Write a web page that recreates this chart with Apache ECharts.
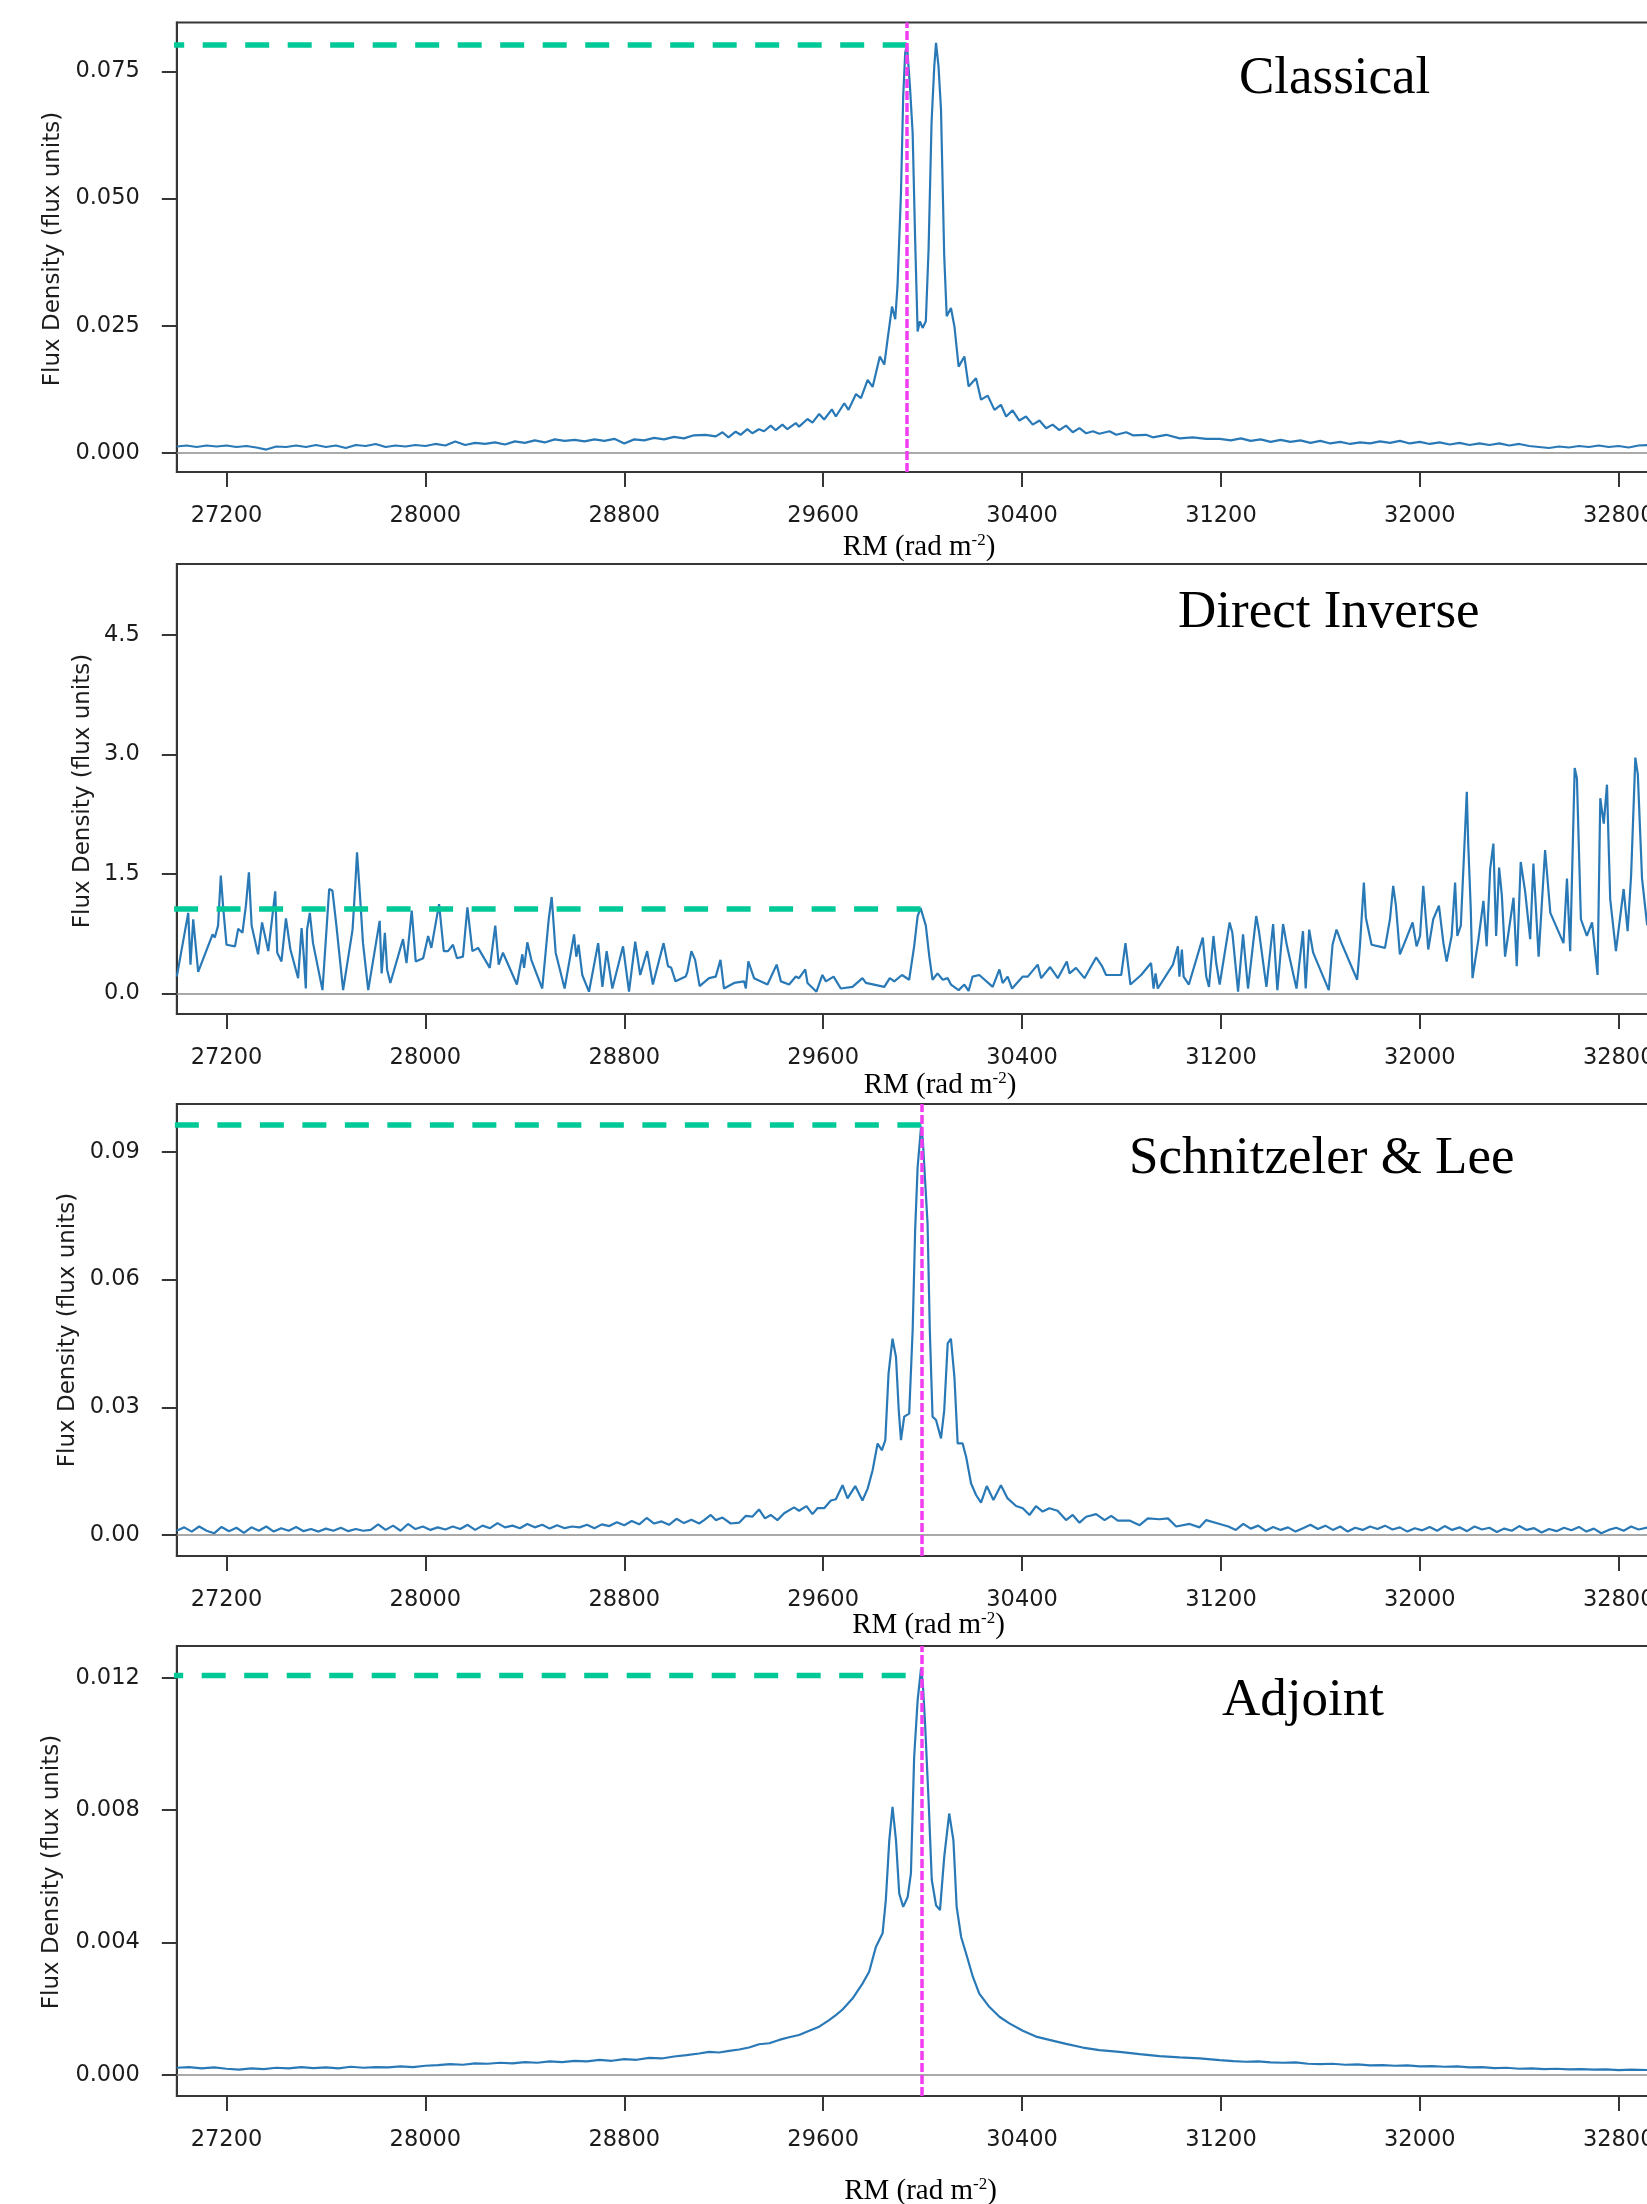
<!DOCTYPE html>
<html>
<head>
<meta charset="utf-8">
<title>Faraday depth spectra</title>
<script src="https://cdn.jsdelivr.net/npm/echarts@6/dist/echarts.min.js"></script>
<style>
  html, body { margin: 0; padding: 0; background: #ffffff; }
  #chart { width: 1647px; height: 2204px; }
</style>
</head>
<body>
<div id="chart"></div>
<script>
// ---------------- data ----------------
// RM axis (rad m^-2)
const rmTicks = [27200, 28000, 28800, 29600, 30400, 31200, 32000, 32800];
const rmExtent = [27000, 33000];

// Classical reconstruction: [RM, flux]
const classical = [
  [27000,0.0013],[27040,0.0015],[27080,0.0012],[27120,0.0015],[27160,0.0013],[27200,0.0015],[27240,0.0012],
  [27280,0.0014],[27320,0.0011],[27360,0.0007],[27400,0.0013],[27440,0.0012],[27480,0.0015],[27520,0.0012],
  [27560,0.0016],[27600,0.0012],[27640,0.0015],[27680,0.0010],[27720,0.0016],[27760,0.0014],[27800,0.0018],
  [27840,0.0012],[27880,0.0015],[27920,0.0013],[27960,0.0016],[28000,0.0014],[28040,0.0018],[28080,0.0015],
  [28120,0.0023],[28160,0.0016],[28200,0.0020],[28240,0.0018],[28280,0.0021],[28320,0.0017],[28360,0.0023],
  [28400,0.0020],[28440,0.0025],[28480,0.0021],[28520,0.0027],[28560,0.0024],[28600,0.0026],[28640,0.0023],
  [28680,0.0027],[28720,0.0024],[28760,0.0028],[28800,0.0019],[28840,0.0027],[28880,0.0025],[28920,0.0030],
  [28960,0.0027],[29000,0.0032],[29040,0.0029],[29080,0.0035],
  [29127,0.0036],[29168,0.0033],[29195,0.0041],[29219,0.0031],[29248,0.0042],[29268,0.0036],[29295,0.0047],
  [29315,0.0039],[29342,0.0047],[29362,0.0043],[29389,0.0054],[29409,0.0045],[29436,0.0056],[29456,0.0047],
  [29490,0.0059],[29503,0.0052],[29537,0.0067],[29557,0.0060],[29584,0.0077],[29604,0.0066],[29635,0.0086],
  [29651,0.0072],[29685,0.0098],[29702,0.0085],[29732,0.0116],[29752,0.0108],[29779,0.0144],[29799,0.0130],
  [29828,0.0190],[29846,0.0174],[29859,0.0223],[29877,0.0288],[29890,0.0263],[29899,0.0328],[29913,0.0511],
  [29922,0.0701],[29930,0.0786],[29937,0.0803],[29949,0.0721],[29960,0.0629],[29970,0.0419],[29980,0.0239],
  [29989,0.0259],[30000,0.0246],[30013,0.0259],[30024,0.0400],[30036,0.0649],[30047,0.0760],[30054,0.0806],
  [30064,0.0760],[30074,0.0675],[30087,0.0387],[30097,0.0269],[30114,0.0285],[30128,0.0249],[30145,0.0170],
  [30168,0.0190],[30185,0.0131],[30215,0.0147],[30235,0.0105],[30262,0.0113],[30289,0.0085],[30315,0.0095],
  [30336,0.0072],[30362,0.0084],[30389,0.0064],[30416,0.0072],[30443,0.0056],[30470,0.0064],[30497,0.0049],
  [30523,0.0056],[30550,0.0045],[30577,0.0054],[30604,0.0041],[30631,0.0049],[30658,0.0039],[30685,0.0043],
  [30711,0.0038],[30752,0.0043],[30779,0.0036],[30819,0.0041],[30846,0.0035],[30899,0.0036],[30926,0.0031],
  [30980,0.0036],[31034,0.0029],[31087,0.0031],[31141,0.0028],[31195,0.0028],
  [31240,0.0025],[31280,0.0029],[31320,0.0024],[31360,0.0027],[31400,0.0022],[31440,0.0026],[31480,0.0022],
  [31520,0.0025],[31560,0.0020],[31600,0.0024],[31640,0.0019],[31680,0.0022],[31720,0.0018],[31760,0.0021],
  [31800,0.0019],[31840,0.0023],[31880,0.0020],[31920,0.0024],[31960,0.0019],[32000,0.0022],[32040,0.0018],
  [32080,0.0021],[32120,0.0017],[32160,0.0020],[32200,0.0016],[32240,0.0019],[32280,0.0016],[32320,0.0019],
  [32360,0.0015],[32400,0.0018],[32440,0.0014],[32480,0.0012],[32520,0.0010],[32560,0.0013],[32600,0.0011],
  [32640,0.0014],[32680,0.0012],[32720,0.0015],[32760,0.0012],[32800,0.0014],[32840,0.0011],[32880,0.0015],
  [32920,0.0016]
];

// Direct inverse reconstruction: [RM, flux]
const directInverse = [
  [27000,0.21],[27046,1.01],[27055,0.36],[27066,0.93],[27086,0.27],[27144,0.74],[27153,0.70],[27166,0.85],
  [27177,1.48],[27187,1.06],[27200,0.61],[27234,0.59],[27247,0.81],[27264,0.76],[27278,1.10],[27290,1.52],
  [27301,0.85],[27327,0.49],[27343,0.89],[27368,0.53],[27396,1.28],[27404,0.51],[27421,0.40],[27439,0.94],
  [27457,0.55],[27488,0.19],[27502,0.82],[27511,0.46],[27519,0.06],[27524,0.80],[27535,1.01],[27548,0.63],
  [27586,0.04],[27613,1.31],[27626,1.29],[27642,0.85],[27669,0.04],[27707,0.80],[27719,1.42],[27725,1.77],
  [27736,1.27],[27749,0.63],[27770,0.04],[27816,0.91],[27824,0.25],[27837,0.76],[27846,0.30],[27859,0.13],
  [27910,0.68],[27924,0.38],[27945,1.04],[27961,0.40],[27991,0.44],[28011,0.72],[28024,0.57],[28055,1.12],
  [28074,0.53],[28091,0.53],[28111,0.61],[28127,0.44],[28151,0.46],[28169,1.08],[28189,0.53],[28212,0.57],
  [28259,0.32],[28281,0.85],[28295,0.36],[28312,0.51],[28368,0.11],[28390,0.49],[28397,0.32],[28410,0.64],
  [28426,0.42],[28470,0.06],[28496,0.93],[28508,1.21],[28524,0.51],[28560,0.06],[28598,0.74],[28607,0.46],
  [28616,0.61],[28631,0.23],[28658,0.02],[28695,0.63],[28712,0.08],[28729,0.53],[28752,0.06],[28795,0.59],
  [28819,0.02],[28844,0.65],[28864,0.23],[28892,0.53],[28915,0.11],[28958,0.63],[28976,0.34],[28989,0.32],
  [29006,0.15],[29047,0.21],[29054,0.27],[29070,0.53],[29085,0.42],[29103,0.09],[29141,0.19],[29168,0.21],
  [29187,0.42],[29201,0.06],[29242,0.13],[29282,0.15],[29289,0.06],[29299,0.40],[29322,0.19],[29376,0.11],
  [29413,0.36],[29430,0.15],[29463,0.11],[29490,0.21],[29503,0.19],[29528,0.30],[29537,0.13],[29573,0.02],
  [29597,0.23],[29611,0.15],[29642,0.21],[29671,0.06],[29718,0.08],[29758,0.19],[29772,0.13],[29846,0.08],
  [29868,0.19],[29886,0.15],[29917,0.23],[29946,0.17],[29966,0.59],[29980,0.97],[29992,1.07],[30013,0.85],
  [30027,0.46],[30040,0.17],[30060,0.25],[30081,0.17],[30101,0.19],[30114,0.11],[30145,0.04],[30168,0.11],
  [30185,0.03],[30201,0.21],[30228,0.23],[30282,0.08],[30309,0.30],[30322,0.13],[30342,0.21],[30360,0.06],
  [30403,0.21],[30423,0.21],[30463,0.36],[30477,0.19],[30513,0.33],[30544,0.19],[30580,0.40],[30591,0.25],
  [30617,0.32],[30651,0.19],[30698,0.45],[30722,0.34],[30738,0.23],[30799,0.23],[30816,0.63],[30836,0.11],
  [30879,0.23],[30919,0.38],[30929,0.06],[30937,0.25],[30946,0.06],[31007,0.36],[31027,0.59],[31033,0.21],
  [31043,0.55],[31050,0.21],[31071,0.11],[31127,0.70],[31141,0.21],[31152,0.08],[31170,0.72],[31181,0.38],
  [31195,0.11],[31235,0.89],[31246,0.76],[31269,0.02],[31289,0.74],[31309,0.06],[31342,0.97],[31353,0.78],
  [31383,0.08],[31410,0.87],[31427,0.04],[31450,0.87],[31466,0.59],[31504,0.06],[31530,0.78],[31541,0.06],
  [31555,0.80],[31571,0.51],[31634,0.04],[31649,0.61],[31665,0.80],[31685,0.63],[31748,0.17],[31759,0.59],
  [31775,1.39],[31783,0.95],[31806,0.61],[31860,0.57],[31880,0.93],[31893,1.35],[31904,1.10],[31920,0.49],
  [31947,0.70],[31971,0.89],[31987,0.59],[32001,0.72],[32014,1.35],[32028,0.80],[32034,0.55],[32054,0.93],
  [32077,1.10],[32095,0.63],[32108,0.40],[32128,0.72],[32142,1.39],[32151,0.72],[32165,0.85],[32182,2.03],
  [32189,2.53],[32195,1.86],[32205,1.06],[32212,0.19],[32236,0.68],[32256,1.16],[32269,0.59],[32283,1.56],
  [32296,1.88],[32307,0.72],[32319,1.58],[32330,1.23],[32343,0.46],[32377,1.20],[32390,0.34],[32406,1.65],
  [32424,1.27],[32444,0.68],[32457,1.63],[32478,0.46],[32504,1.80],[32525,1.01],[32578,0.63],[32592,1.44],
  [32605,0.53],[32623,2.83],[32632,2.70],[32648,0.93],[32672,0.72],[32693,0.89],[32715,0.23],[32726,2.45],
  [32740,2.13],[32753,2.62],[32760,1.82],[32766,1.18],[32789,0.53],[32820,1.31],[32836,0.78],[32850,1.48],
  [32867,2.96],[32877,2.75],[32894,1.44],[32914,0.87],[32930,0.80]
];

// Schnitzeler & Lee reconstruction: [RM, flux]
const schnitzelerLee = [
  [27000,0.0010],[27030,0.0018],[27060,0.0008],[27090,0.0020],[27120,0.0010],[27150,0.0004],[27180,0.0019],
  [27210,0.0009],[27240,0.0017],[27270,0.0005],[27300,0.0018],[27330,0.0010],[27360,0.0020],[27390,0.0008],
  [27420,0.0016],[27450,0.0010],[27480,0.0019],[27510,0.0009],[27540,0.0014],[27570,0.0008],[27600,0.0015],
  [27630,0.0010],[27660,0.0017],[27690,0.0009],[27720,0.0014],[27750,0.0010],[27780,0.0012],[27810,0.0025],
  [27840,0.0012],[27870,0.0022],[27900,0.0010],[27930,0.0026],[27960,0.0014],[27990,0.0020],[28020,0.0012],
  [28050,0.0018],[28080,0.0013],[28110,0.0020],[28140,0.0014],[28170,0.0024],[28200,0.0012],[28230,0.0022],
  [28260,0.0016],[28290,0.0028],[28320,0.0018],[28350,0.0022],[28380,0.0016],[28410,0.0026],[28440,0.0018],
  [28470,0.0024],[28500,0.0015],[28530,0.0023],[28560,0.0016],[28590,0.0020],[28620,0.0018],[28650,0.0024],
  [28680,0.0016],[28710,0.0025],[28740,0.0021],[28770,0.0030],[28800,0.0023],[28830,0.0033],[28860,0.0025],
  [28890,0.0040],[28920,0.0027],[28950,0.0032],[28980,0.0024],[29010,0.0038],[29040,0.0028],[29070,0.0036],
  [29101,0.0027],[29121,0.0035],[29148,0.0047],[29168,0.0035],[29195,0.0041],[29228,0.0027],[29262,0.0029],
  [29289,0.0045],[29315,0.0043],[29342,0.0060],[29366,0.0039],[29389,0.0047],[29416,0.0035],[29443,0.0051],
  [29483,0.0065],[29503,0.0057],[29533,0.0068],[29557,0.0049],[29577,0.0063],[29604,0.0063],[29631,0.0081],
  [29651,0.0084],[29678,0.0117],[29698,0.0086],[29729,0.0115],[29758,0.0081],[29779,0.0109],[29799,0.0152],
  [29819,0.0215],[29836,0.0199],[29850,0.0223],[29863,0.0379],[29879,0.0461],[29893,0.0418],[29904,0.0293],
  [29913,0.0223],[29926,0.0278],[29946,0.0285],[29960,0.0481],[29970,0.0715],[29980,0.0864],[29994,0.0960],
  [30001,0.0927],[30010,0.0833],[30020,0.0731],[30029,0.0481],[30040,0.0278],[30054,0.0270],[30074,0.0227],
  [30087,0.0293],[30101,0.0450],[30114,0.0461],[30128,0.0371],[30141,0.0215],[30161,0.0215],[30175,0.0184],
  [30195,0.0121],[30215,0.0094],[30235,0.0076],[30258,0.0115],[30285,0.0082],[30315,0.0117],[30342,0.0086],
  [30376,0.0068],[30403,0.0063],[30430,0.0047],[30456,0.0068],[30483,0.0055],[30510,0.0063],[30543,0.0057],
  [30577,0.0035],[30604,0.0047],[30631,0.0029],[30658,0.0043],[30698,0.0049],[30732,0.0035],[30759,0.0045],
  [30785,0.0034],[30832,0.0034],[30873,0.0023],[30906,0.0039],[30953,0.0037],[30987,0.0039],[31020,0.0020],
  [31074,0.0026],[31114,0.0018],[31141,0.0035],[31195,0.0026],
  [31230,0.0020],[31260,0.0012],[31290,0.0026],[31320,0.0015],[31350,0.0022],[31380,0.0010],[31410,0.0019],
  [31440,0.0012],[31470,0.0018],[31500,0.0008],[31530,0.0016],[31560,0.0024],[31590,0.0014],[31620,0.0022],
  [31650,0.0012],[31680,0.0020],[31710,0.0008],[31740,0.0017],[31770,0.0012],[31800,0.0020],[31830,0.0014],
  [31860,0.0022],[31890,0.0013],[31920,0.0018],[31950,0.0008],[31980,0.0016],[32010,0.0011],[32040,0.0019],
  [32070,0.0010],[32100,0.0021],[32130,0.0012],[32160,0.0018],[32190,0.0009],[32220,0.0020],[32250,0.0013],
  [32280,0.0017],[32310,0.0007],[32340,0.0015],[32370,0.0010],[32400,0.0021],[32430,0.0012],[32460,0.0016],
  [32490,0.0006],[32520,0.0014],[32550,0.0009],[32580,0.0017],[32610,0.0011],[32640,0.0019],[32670,0.0008],
  [32700,0.0015],[32730,0.0004],[32760,0.0012],[32790,0.0017],[32820,0.0010],[32850,0.0020],[32880,0.0013],
  [32920,0.0018]
];

// Adjoint reconstruction: [RM, flux]
const adjoint = [
  [27000,0.00022],[27050,0.00024],[27100,0.00020],[27150,0.00023],[27200,0.00019],[27250,0.00016],
  [27300,0.00020],[27350,0.00018],[27400,0.00022],[27450,0.00020],[27500,0.00024],[27550,0.00021],
  [27600,0.00023],[27650,0.00020],[27700,0.00025],[27750,0.00022],[27800,0.00024],[27850,0.00023],
  [27900,0.00026],[27950,0.00024],[28000,0.00028],[28050,0.00030],[28100,0.00033],[28150,0.00031],
  [28200,0.00035],[28250,0.00034],[28300,0.00037],[28350,0.00035],[28400,0.00039],[28450,0.00037],
  [28500,0.00041],[28550,0.00039],[28600,0.00043],[28650,0.00041],[28700,0.00046],[28750,0.00043],
  [28800,0.00048],[28850,0.00046],[28900,0.00052],[28950,0.00050],[29000,0.00056],[29050,0.00060],
  [29101,0.00065],[29141,0.00070],[29181,0.00068],[29222,0.00073],[29262,0.00077],[29302,0.00083],
  [29342,0.00093],[29383,0.00096],[29423,0.00106],[29463,0.00114],[29503,0.00121],[29544,0.00134],
  [29584,0.00146],[29624,0.00166],[29651,0.00181],[29678,0.00198],[29718,0.00231],[29759,0.00277],
  [29785,0.00312],[29812,0.00387],[29839,0.00428],[29852,0.00528],[29866,0.00709],[29879,0.00810],
  [29893,0.00709],[29906,0.00548],[29922,0.00508],[29940,0.00538],[29953,0.00609],[29966,0.00960],
  [29980,0.01132],[29994,0.01230],[30001,0.01182],[30010,0.01061],[30024,0.00830],[30037,0.00589],
  [30054,0.00513],[30070,0.00498],[30087,0.00659],[30107,0.00790],[30124,0.00709],[30137,0.00508],
  [30155,0.00417],[30175,0.00367],[30202,0.00297],[30228,0.00246],[30268,0.00206],[30309,0.00176],
  [30349,0.00156],[30403,0.00134],[30456,0.00116],[30510,0.00106],[30577,0.00094],[30644,0.00083],
  [30711,0.00075],[30792,0.00070],[30873,0.00063],[30953,0.00057],[31034,0.00053],[31114,0.00050],
  [31195,0.00045],
  [31250,0.00042],[31300,0.00040],[31350,0.00041],[31400,0.00038],[31450,0.00037],[31500,0.00038],
  [31550,0.00034],[31600,0.00033],[31650,0.00034],[31700,0.00031],[31750,0.00032],[31800,0.00029],
  [31850,0.00030],[31900,0.00028],[31950,0.00029],[32000,0.00026],[32050,0.00027],[32100,0.00025],
  [32150,0.00026],[32200,0.00023],[32250,0.00024],[32300,0.00021],[32350,0.00022],[32400,0.00019],
  [32450,0.00020],[32500,0.00018],[32550,0.00019],[32600,0.00017],[32650,0.00018],[32700,0.00016],
  [32750,0.00017],[32800,0.00015],[32850,0.00016],[32920,0.00015]
];

// flux-axis ticks and extents
const classicalTicks = [0, 0.025, 0.05, 0.075];
const directTicks = [0, 1.5, 3.0, 4.5];
const slTicks = [0, 0.03, 0.06, 0.09];
const adjointTicks = [0, 0.004, 0.008, 0.012];
const classicalExtent = [-0.00371, 0.08461];
const directExtent = [-0.26, 5.392];
const slExtent = [-0.00493, 0.10123];
const adjointExtent = [-0.000634, 0.012961];

// recovered peak [RM, flux] (start of the dashed level line) and true-RM marker
const classicalPeak = [29936, 0.0802];
const directPeak = [29992, 1.06];
const slPeak = [29995, 0.0963];
const adjointPeak = [29932, 0.01207];
const classicalMarker = 29936;
const slMarker = 29997;
const adjointMarker = 29997;

// ---------------- layout & style ----------------
const AXIS_DARK = '#363636';
const LABEL_COLOR = '#1c1c1c';
const CURVE_BLUE = '#2a79b7';
const LEVEL_GREEN = '#00c896';
const MARKER_MAGENTA = '#f23cf2';
const SANS = '"DejaVu Sans", "Noto Sans", sans-serif';
const SERIF = '"Liberation Serif", "Times New Roman", serif';

const panels = [
  { title: 'Classical', data: classical, ticks: classicalTicks, extent: classicalExtent, digits: 3,
    peak: classicalPeak, marker: classicalMarker,
    top: 22.5, height: 449.5, titleXY: [1239, 79.5], xNameXY: [919, 547], yNameXY: [53.5, 249] },
  { title: 'Direct Inverse', data: directInverse, ticks: directTicks, extent: directExtent, digits: 1,
    peak: directPeak, marker: null,
    top: 564, height: 450, titleXY: [1178, 613.5], xNameXY: [940, 1085], yNameXY: [83, 791] },
  { title: 'Schnitzeler & Lee', data: schnitzelerLee, ticks: slTicks, extent: slExtent, digits: 2,
    peak: slPeak, marker: slMarker,
    top: 1104, height: 452, titleXY: [1129, 1159], xNameXY: [928.5, 1625], yNameXY: [68, 1330] },
  { title: 'Adjoint', data: adjoint, ticks: adjointTicks, extent: adjointExtent, digits: 3,
    peak: adjointPeak, marker: adjointMarker,
    top: 1646, height: 450, titleXY: [1222, 1701], xNameXY: [920.5, 2191], yNameXY: [52.5, 1872] }
];

const GRID_LEFT = 176.8;
const GRID_WIDTH = 1491.6;   // 27000..33000 → right edge runs past the canvas

const grids = [], xAxes = [], yAxes = [], series = [], graphics = [];

panels.forEach((p, i) => {
  grids.push({
    left: GRID_LEFT, top: p.top, width: GRID_WIDTH, height: p.height,
    show: true, borderColor: AXIS_DARK, borderWidth: 2, backgroundColor: 'transparent',
    containLabel: false, outerBoundsMode: 'none'
  });

  xAxes.push({
    type: 'value', gridIndex: i, min: rmExtent[0], max: rmExtent[1],
    axisLine: { show: true, onZero: false, lineStyle: { color: AXIS_DARK, width: 2 } },
    axisTick: { show: true, inside: false, length: 15, lineStyle: { color: AXIS_DARK, width: 2 },
                customValues: rmTicks },
    axisLabel: { show: true, margin: 33, color: LABEL_COLOR, fontFamily: SANS, fontSize: 22.5,
                 customValues: rmTicks, formatter: v => String(v) },
    splitLine: { show: false }
  });

  yAxes.push({
    type: 'value', gridIndex: i, min: p.extent[0], max: p.extent[1],
    axisLine: { show: true, onZero: false, lineStyle: { color: AXIS_DARK, width: 2 } },
    axisTick: { show: true, inside: false, length: 15, lineStyle: { color: AXIS_DARK, width: 2 },
                customValues: p.ticks },
    axisLabel: { show: true, margin: 37, color: LABEL_COLOR, fontFamily: SANS, fontSize: 22.5,
                 customValues: p.ticks, formatter: v => Number(v).toFixed(p.digits) },
    splitLine: { show: false }
  });

  // spectrum with the zero-flux reference line
  series.push({
    name: p.title, type: 'line', xAxisIndex: i, yAxisIndex: i,
    data: p.data, showSymbol: false, symbol: 'none', smooth: false, sampling: 'none',
    lineStyle: { color: CURVE_BLUE, width: 2.2 }, z: 3, silent: true,
    markLine: {
      silent: true, symbol: ['none', 'none'], label: { show: false }, z: 2,
      lineStyle: { color: '#8c8c8c', width: 1.5, type: 'solid' },
      data: [{ yAxis: 0 }]
    }
  });

  // dashed level of the recovered peak, drawn from the peak towards low RM
  const level = {
    name: p.title + ' peak level', type: 'line', xAxisIndex: i, yAxisIndex: i,
    data: [[p.peak[0], p.peak[1]], [rmExtent[0] - 200, p.peak[1]]],
    showSymbol: false, symbol: 'none', silent: true, z: 4,
    lineStyle: { color: LEVEL_GREEN, width: 5.5, type: [24, 18.5], cap: 'butt' }
  };
  if (p.marker !== null) {
    level.markLine = {
      silent: true, symbol: ['none', 'none'], label: { show: false }, z: 6,
      lineStyle: { color: MARKER_MAGENTA, width: 3.5, type: [9, 3] },
      data: [{ xAxis: p.marker }]
    };
  }
  series.push(level);

  // panel title
  graphics.push({
    type: 'text', x: p.titleXY[0], y: p.titleXY[1], silent: true,
    style: { text: p.title, font: '53px ' + SERIF, fill: '#000000',
             textAlign: 'left', textVerticalAlign: 'middle' }
  });
  // RM axis name with superscript
  graphics.push({
    type: 'text', x: p.xNameXY[0], y: p.xNameXY[1], silent: true,
    style: {
      text: '{n|RM (rad m}{s|-2}{n|)}',
      textAlign: 'center', textVerticalAlign: 'middle', fill: '#000000',
      font: '29px ' + SERIF,
      rich: {
        n: { fontSize: 29, fontFamily: SERIF, fill: '#000000', lineHeight: 30 },
        s: { fontSize: 17, fontFamily: SERIF, fill: '#000000', verticalAlign: 'top', lineHeight: 20 }
      }
    }
  });
  // flux axis name
  graphics.push({
    type: 'text', x: p.yNameXY[0], y: p.yNameXY[1], rotation: Math.PI / 2, silent: true,
    style: { text: 'Flux Density (flux units)', font: '23px ' + SANS, fill: LABEL_COLOR,
             textAlign: 'center', textVerticalAlign: 'middle' }
  });
});

const chart = echarts.init(document.getElementById('chart'), null, { renderer: 'canvas', width: 1647, height: 2204 });
chart.setOption({
  animation: false,
  backgroundColor: '#ffffff',
  grid: grids,
  xAxis: xAxes,
  yAxis: yAxes,
  series: series,
  graphic: graphics
});
</script>
</body>
</html>
